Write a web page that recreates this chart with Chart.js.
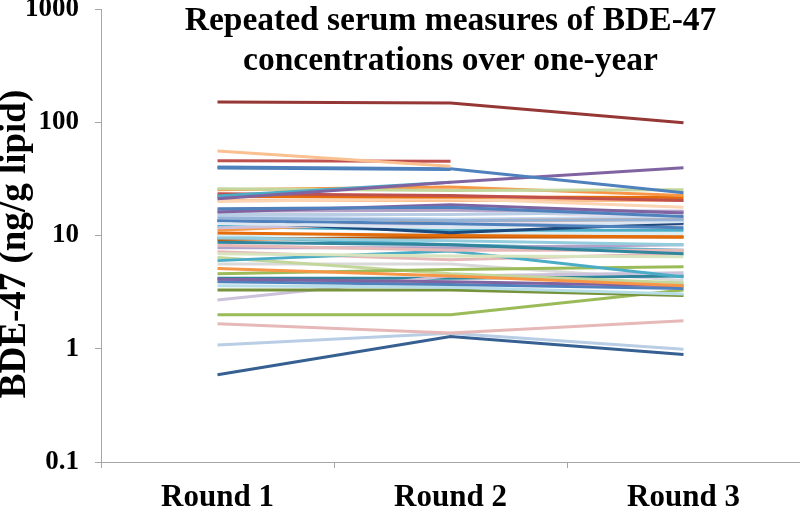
<!DOCTYPE html>
<html>
<head>
<meta charset="utf-8">
<script src="https://cdn.jsdelivr.net/npm/chart.js@4/dist/chart.umd.min.js"></script>
<style>
  html, body { margin: 0; padding: 0; background: #fff; }
  #wrap { width: 800px; height: 513px; position: relative; }
</style>
</head>
<body>
<div id="wrap"><canvas id="myChart"></canvas></div>
<script>
// datos (ng/g lipid), una posicion por participante
const categories = ['Round 1', 'Round 2', 'Round 3'];
const round1 = [151, 55.7, 45.8, 40.2, 39.5, 21.1, 22.3, 25.9, 25.4, 23.4, 22.1, 20.0, 17.2, 16.1, 16.4, 15.3, 14.3,
    13.6, 12.8, 13.4, 11.7, 11.1, 10.5, 9.5, 9.2, 8.7, 8.2, 6.9, 6.0, 5.1, 4.6, 6.4, 4.1, 3.9, 3.6, 3.3, 2.7, 2.0,
    1.66, 1.08, 0.59, 20.5, 14.8, 10.0, 7.8, 9.8, 4.2, 5.6, 12.0, 16.8, 7.2];
const round2 = [148, 40.8, 45.2, 38.9, 38.3, 29.5, 29.5, 25.0, 26.8, 22.6, 21.9, 21.2, 17.8, 18.7, 16.7, 15.3, 13.6,
    12.7, 11.7, 10.6, 12.7, 13.6, 10.0, 9.0, 9.7, 8.3, 7.4, 6.6, 7.3, 4.4, 5.0, 4.6, 3.9, 3.7, 3.5, 3.3, 4.4, 2.0,
    1.38, 1.37, 1.28, 20.4, 14.0, 10.4, 7.8, 8.3, 4.2, 5.6, 11.1, 16.8, 6.1];
const round3 = [99, null, null, 23.9, null, 39.7, null, 25.4, 22.6, 20.4, 21.6, 17.8, 14.7, 15.8, 16.4, 16.1, 13.8,
    11.7, 13.3, 12.8, 12.5, 13.8, 9.7, 8.3, 9.7, 6.9, 7.4, 6.5, 4.3, 3.6, 5.3, 3.8, 3.6, 3.4, 3.05, 2.95, 4.7, 3.3,
    1.77, 0.99, 0.89, 20.4, 14.4, 10.4, 8.3, 7.4, 4.4, 4.0, 11.1, 14.0, 6.9];
const yTicks = [0.1, 1, 10, 100, 1000];

const lineColors = ['#953735', '#FAC090', '#C0504D', '#4F81BD', '#4A7EBB', '#8064A2', '#4BACC6', '#C3D69B', '#F79646',
    '#C0504D', '#E46C0A', '#FCD5B5', '#4F81BD', '#8064A2', '#B3A2C7', '#B9CDE5', '#95B3D7', '#4F81BD', '#DCE6F2',
    '#1F497D', '#CCC1DA', '#F79646', '#E46C0A', '#93CDDD', '#B65708', '#31859C', '#E6B9B8', '#D7E4BD', '#4BACC6',
    '#F79646', '#9BBB59', '#C3D69B', '#8064A2', '#4F81BD', '#B7DEE8', '#77933C', '#CCC1DA', '#9BBB59', '#E6B9B8',
    '#B9CDE5', '#376092', '#FAC090', '#C6D9F1', '#DBEEF4', '#B3A2C7', '#4BACC6', '#31859C', '#D9D9D9', '#4BACC6',
    '#E6E0EC', '#E6B9B8'];

const serif = '"Liberation Serif", "Times New Roman", serif';
const axisGrey = '#A6A6A6';

const datasets = round1.map(function (v, i) {
    return {
        label: 'P' + (i + 1),
        data: [v, round2[i], round3[i]],
        borderColor: lineColors[i],
        borderWidth: 3,
        pointRadius: 0,
        fill: false,
        tension: 0,
        spanGaps: false
    };
});

// titulo y titulo del eje dibujados sobre el area (como en Excel)
const textPlugin = {
    id: 'textPlugin',
    afterDraw(chart) {
        const ctx = chart.ctx;
        const area = chart.chartArea;
        ctx.save();
        ctx.fillStyle = '#000';
        ctx.font = 'bold 33.5px ' + serif;
        ctx.textAlign = 'center';
        ctx.textBaseline = 'alphabetic';
        const cx = (area.left + area.right) / 2;
        ctx.fillText('Repeated serum measures of BDE-47', cx, 30);
        ctx.fillText('concentrations over one-year', cx, 70);

        ctx.translate(25, 244);
        ctx.rotate(-Math.PI / 2);
        ctx.font = 'bold 37px ' + serif;
        ctx.fillText('BDE-47 (ng/g lipid)', 0, 0);
        ctx.restore();
    }
};

const ctx = document.getElementById('myChart').getContext('2d');
const myChart = new Chart(ctx, {
    type: 'line',
    data: { labels: categories, datasets: datasets },
    options: {
        responsive: true,
        maintainAspectRatio: false,
        animation: false,
        layout: { padding: { top: 9, right: 0, bottom: 0, left: 0 } },
        plugins: {
            legend: { display: false },
            tooltip: { enabled: false }
        },
        scales: {
            x: {
                type: 'category',
                offset: true,
                afterFit: function (scale) {
                    scale.height = 51;
                    scale.paddingLeft = 0;
                    scale.paddingRight = 0;
                },
                grid: { offset: true, drawOnChartArea: false, drawTicks: true, tickLength: 6, color: axisGrey },
                border: { display: true, color: axisGrey, width: 1 },
                ticks: { color: '#000', padding: 11, font: { family: serif, size: 31, weight: 'bold' } }
            },
            y: {
                type: 'logarithmic',
                min: 0.1,
                max: 1000,
                afterFit: function (scale) {
                    scale.width = 101;
                    scale.paddingTop = 0;
                    scale.paddingBottom = 0;
                },
                afterBuildTicks: function (scale) {
                    scale.ticks = yTicks.map(function (v) { return { value: v }; });
                },
                grid: { drawOnChartArea: false, drawTicks: true, tickLength: 6, color: axisGrey },
                border: { display: true, color: axisGrey, width: 1 },
                ticks: {
                    color: '#000',
                    padding: 16,
                    font: { family: serif, size: 27, weight: 'bold' },
                    callback: function (value) { return String(value); }
                }
            }
        }
    },
    plugins: [textPlugin]
});
</script>
</body>
</html>
